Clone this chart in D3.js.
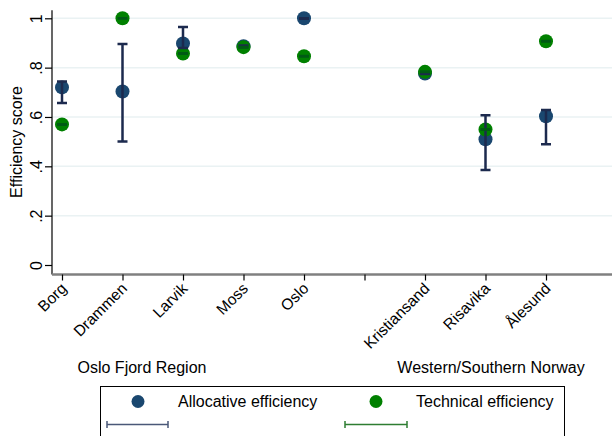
<!DOCTYPE html>
<html><head><meta charset="utf-8">
<script src="https://cdn.jsdelivr.net/npm/d3@7"></script>
<style>body{margin:0;background:#fff}svg{display:block}svg text{font-family:"Liberation Sans",Arial,sans-serif}</style>
</head><body><svg id="c" width="612" height="436"></svg>
<script>
const categories = ["Borg","Drammen","Larvik","Moss","Oslo","Kristiansand","Risavika","Ålesund"];
const positions = [1,2,3,4,5,7,8,9];
const allocative = [0.720,0.703,0.898,0.887,1.000,0.776,0.510,0.603];
const allocLo    = [0.657,0.501,0.880,0.884,0.998,0.774,0.385,0.489];
const allocHi    = [0.744,0.896,0.965,0.890,1.000,0.778,0.607,0.628];
const technical  = [0.570,1.000,0.857,0.883,0.846,0.783,0.549,0.907];
const techLo     = [0.569,0.999,0.856,0.882,0.845,0.782,0.548,0.906];
const techHi     = [0.571,1.000,0.858,0.884,0.847,0.784,0.550,0.908];
const yTicks = [0,0.2,0.4,0.6,0.8,1];
const yTickLabels = ["0",".2",".4",".6",".8","1"];
const blankTick = 6;
const groups = [{label:"Oslo Fjord Region", x:142},{label:"Western/Southern Norway", x:491}];

const svg = d3.select("#c");
const x = d3.scaleLinear().domain([1,9]).range([62,546]);
const y = d3.scaleLinear().domain([0,1]).range([265,18.3]);
const left = 52, right = 612, bottom = 274.5;
const blue = "#1a476f", green = "#008000", navy = "#1c2a4e", dgreen = "#005a14";
const FONT = '"Liberation Sans",Arial,sans-serif';

// gridlines
svg.append("g").selectAll("line").data(yTicks.filter(d=>d>0)).join("line")
  .attr("x1",left).attr("x2",right).attr("y1",d=>y(d)).attr("y2",d=>y(d))
  .attr("stroke","#eaf2f3").attr("stroke-width",1.5);

// y axis
const ya = svg.append("g").attr("transform",`translate(${left},0)`)
  .call(d3.axisLeft(y).tickValues(yTicks).tickFormat((d,i)=>yTickLabels[i]).tickSize(7).tickPadding(0));
ya.attr("font-family",FONT).attr("font-size",16);
ya.select(".domain").attr("stroke","#000").attr("stroke-width",1.2).attr("d",`M0,${y(1)-8}V${bottom}`);
ya.selectAll(".tick line").attr("stroke","#000").attr("stroke-width",1.2);
ya.selectAll(".tick text").style("font-size","16px").style("font-family",FONT).attr("fill","#000")
  .attr("transform","rotate(-90)").attr("x",0).attr("y",-10.3).attr("dy",0).attr("text-anchor","middle");

svg.append("text").attr("transform",`translate(21.5,142) rotate(-90)`).attr("text-anchor","middle")
  .style("font-size","16px").text("Efficiency score");

// x axis
const xa = svg.append("g").attr("transform",`translate(0,${bottom})`)
  .call(d3.axisBottom(x).tickValues(positions.concat([blankTick])).tickFormat(d=>{const i=positions.indexOf(d);return i<0?"":categories[i];}).tickSize(6).tickSizeOuter(0));
xa.attr("font-family",FONT).attr("font-size",15.5);
xa.select(".domain").attr("stroke","#808080").attr("stroke-width",2.5).attr("d",`M${left},0H${right}`);
xa.selectAll(".tick line").attr("stroke","#000").attr("stroke-width",1.2);
xa.selectAll(".tick text").style("font-size","15.5px").style("font-family",FONT).attr("fill","#000")
  .attr("text-anchor","end").attr("y",0).attr("dy",0)
  .attr("transform","translate(5,15) rotate(-45)");

// group labels
svg.append("g").selectAll("text").data(groups).join("text")
  .attr("x",d=>d.x).attr("y",373).attr("text-anchor","middle").style("font-size","16px").text(d=>d.label);

const idx = d3.range(categories.length);
// markers
svg.append("g").selectAll("circle").data(idx).join("circle")
  .attr("cx",i=>x(positions[i])).attr("cy",i=>y(allocative[i])).attr("r",7).attr("fill",blue);
svg.append("g").selectAll("circle").data(idx).join("circle")
  .attr("cx",i=>x(positions[i])).attr("cy",i=>y(technical[i])).attr("r",7).attr("fill",green);

function bars(lo,hi,color){
  const g = svg.append("g").attr("stroke",color).attr("stroke-width",2.5).attr("fill","none");
  g.selectAll("path").data(idx).join("path").attr("d",i=>{
    const cx=x(positions[i]), a=y(lo[i]), b=y(hi[i]);
    return `M${cx},${a}V${b}M${cx-5},${a}H${cx+5}M${cx-5},${b}H${cx+5}`;
  });
}
bars(allocLo,allocHi,navy);
bars(techLo,techHi,dgreen);

// legend
const lg = svg.append("g");
lg.append("rect").attr("x",100.5).attr("y",386.5).attr("width",464).attr("height",60)
  .attr("fill","#fff").attr("stroke","#000").attr("stroke-width",1);
const legendItems = [
  {label:"Allocative efficiency", dot:blue, line:"#4a5878", dx:138, tx:178, lx1:107, lx2:168},
  {label:"Technical efficiency", dot:green, line:"#2e7d32", dx:376, tx:416, lx1:345, lx2:407}
];
legendItems.forEach(d=>{
  lg.append("circle").attr("cx",d.dx).attr("cy",401.5).attr("r",6.5).attr("fill",d.dot);
  lg.append("text").attr("x",d.tx).attr("y",407).style("font-size","16px").text(d.label);
  lg.append("path").attr("d",`M${d.lx1},424.5H${d.lx2}M${d.lx1},421V428M${d.lx2},421V428`)
    .attr("stroke",d.line).attr("stroke-width",1.5).attr("fill","none");
});
</script></body></html>
